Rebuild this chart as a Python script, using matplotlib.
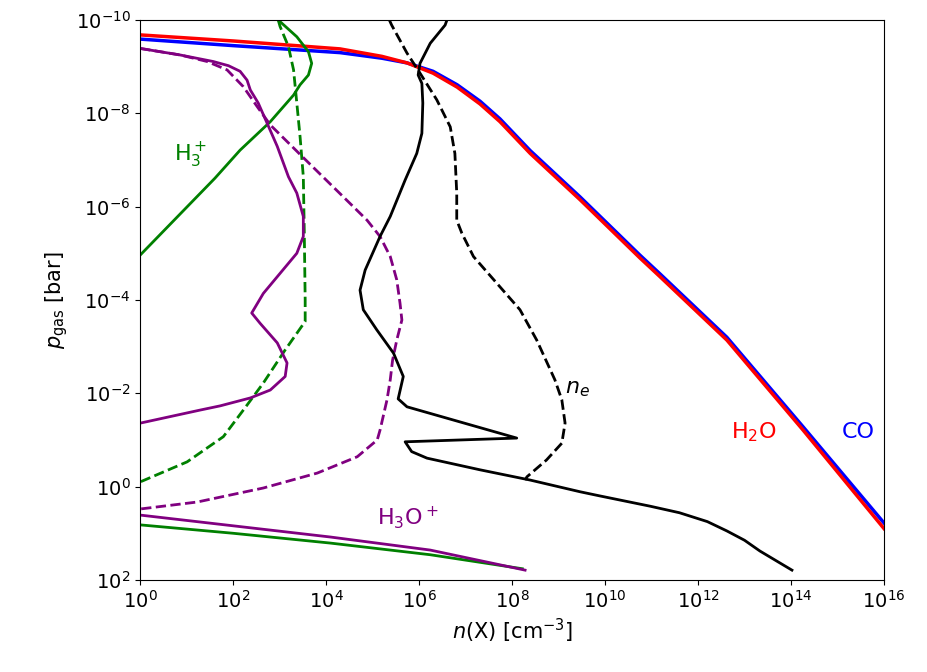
import numpy as np
import matplotlib.pyplot as plt
from matplotlib.ticker import NullLocator

# all values as log10: x = n(X) [cm^-3], y = p_gas [bar]
h2o_x = [0.0, 2.0, 4.3, 5.2, 5.74, 6.3, 6.82, 7.31, 7.74, 8.39, 9.46, 10.75, 11.18, 12.62, 14.26, 16.0]
h2o_y = [-9.68, -9.55, -9.38, -9.22, -9.08, -8.86, -8.56, -8.2, -7.82, -7.14, -6.15, -4.9, -4.5,
         -3.14, -1.21, 0.9]
co_x = [0.0, 2.0, 4.3, 5.2, 5.74, 6.3, 6.82, 7.31, 7.74, 8.39, 9.46, 10.75, 11.18, 12.62, 14.26, 16.0]
co_y = [-9.59, -9.45, -9.3, -9.18, -9.08, -8.9, -8.61, -8.26, -7.88, -7.2, -6.21, -4.96, -4.56,
        -3.2, -1.28, 0.78]

h3p_top_x = [2.97, 3.37, 3.62, 3.69, 3.62, 3.44, 3.3, 2.8, 2.15, 1.61, 0.8, 0.0]
h3p_top_y = [-10.0, -9.64, -9.32, -9.07, -8.82, -8.61, -8.39, -7.82, -7.21, -6.61, -5.78, -4.96]
h3p_bot_x = [0.0, 2.0, 4.09, 6.24, 8.22]
h3p_bot_y = [0.82, 1.0, 1.21, 1.46, 1.76]
h3p_dash_x = [2.97, 3.01, 3.19, 3.3, 3.37, 3.44, 3.51, 3.53, 3.55, 3.55, 3.12, 2.65, 2.22, 1.79,
              1.01, 0.0]
h3p_dash_y = [-10.0, -9.86, -9.43, -8.93, -8.22, -7.5, -6.64, -5.5, -4.0, -3.54, -2.93, -2.22, -1.64,
              -1.07, -0.53, -0.1]

h3op_top_x = [0.0, 0.86, 1.57, 1.9, 2.15, 2.3, 2.37, 2.54, 2.73, 2.95, 3.19, 3.37, 3.51, 3.51, 3.37,
              3.01, 2.65, 2.4, 2.58, 2.95, 3.16, 3.12, 2.8, 2.37, 1.72, 1.29, 0.0]
h3op_top_y = [-9.39, -9.25, -9.11, -9.02, -8.9, -8.71, -8.5, -8.22, -7.79, -7.29, -6.64, -6.29, -5.79,
              -5.36, -5.0, -4.57, -4.14, -3.72, -3.5, -3.08, -2.65, -2.36, -2.07, -1.9, -1.73,
              -1.64, -1.36]
h3op_bot_x = [0.0, 2.0, 4.09, 6.24, 8.28]
h3op_bot_y = [0.61, 0.84, 1.08, 1.36, 1.79]
h3op_dash_x = [0.0, 0.86, 1.44, 1.87, 2.22, 2.52, 2.8, 3.5, 4.37, 4.88, 5.16, 5.38, 5.52, 5.59,
               5.63, 5.52, 5.43, 5.38, 5.31, 5.16, 5.1, 4.67, 3.81, 2.65, 1.23, 0.0]
h3op_dash_y = [-9.39, -9.25, -9.11, -8.93, -8.57, -8.14, -7.75, -7.06, -6.21, -5.71, -5.36, -4.93,
               -4.43, -3.93, -3.57, -3.14, -2.71, -2.29, -1.86, -1.21, -1.0, -0.64, -0.29, 0.03,
               0.33, 0.48]

ion_x = [6.6, 6.56, 6.24, 6.02, 5.98, 6.06, 6.08, 6.06, 5.95, 5.7, 5.38, 5.16, 4.84, 4.73, 4.8,
         5.09, 5.45, 5.66, 5.55, 5.74, 8.1, 5.7, 5.84, 6.17, 7.31, 8.39, 9.46, 9.89, 10.97, 11.6,
         12.2, 12.62, 13.0, 13.33, 13.7, 14.02]
ion_y = [-10.0, -9.89, -9.5, -9.07, -8.82, -8.64, -8.22, -7.57, -7.14, -6.57, -5.79, -5.36, -4.64,
         -4.21, -3.79, -3.36, -2.86, -2.36, -1.88, -1.71, -1.04, -0.96, -0.75, -0.61, -0.36, -0.14,
         0.11, 0.2, 0.42, 0.56, 0.75, 0.95, 1.15, 1.38, 1.6, 1.79]
ne_x = [5.36, 5.41, 5.74, 6.02, 6.38, 6.67, 6.77, 6.81, 6.81, 6.92, 7.17, 7.67, 8.17, 8.53, 8.92,
        9.07, 9.14, 9.07, 8.74, 8.32, 8.28]
ne_y = [-10.0, -9.89, -9.29, -8.86, -8.29, -7.71, -7.14, -6.29, -5.71, -5.43, -4.93, -4.36, -3.79,
        -3.14, -2.29, -1.86, -1.36, -0.93, -0.57, -0.21, -0.14]


def p10(a):
    return np.power(10.0, a)


fig = plt.figure(figsize=(9.28, 6.72), dpi=100)
ax = fig.add_axes([0.151, 0.137, 0.8016, 0.8333])

ax.plot(p10(co_x), p10(co_y), color='blue', lw=2.5)
ax.plot(p10(h2o_x), p10(h2o_y), color='red', lw=2.5)

ax.plot(p10(h3p_top_x), p10(h3p_top_y), color='green', lw=2)
ax.plot(p10(h3p_bot_x), p10(h3p_bot_y), color='green', lw=2)
ax.plot(p10(h3p_dash_x), p10(h3p_dash_y), color='green', lw=2, ls='--')

ax.plot(p10(h3op_top_x), p10(h3op_top_y), color='purple', lw=2)
ax.plot(p10(h3op_bot_x), p10(h3op_bot_y), color='purple', lw=2)
ax.plot(p10(h3op_dash_x), p10(h3op_dash_y), color='purple', lw=2, ls='--')

ax.plot(p10(ion_x), p10(ion_y), color='black', lw=2)
ax.plot(p10(ne_x), p10(ne_y), color='black', lw=2, ls='--')

ax.set_xscale('log')
ax.set_yscale('log')
ax.set_xlim(1e0, 1e16)
ax.set_ylim(1e2, 1e-10)
ax.set_xticks(p10(np.arange(0, 17, 2)))
ax.set_yticks(p10(np.arange(-10, 3, 2)))
ax.xaxis.set_minor_locator(NullLocator())
ax.yaxis.set_minor_locator(NullLocator())
ax.tick_params(labelsize=14)

ax.set_xlabel(r'$n$(X) [cm$^{-3}$]', fontsize=15)
ax.set_ylabel(r'$p_{\rm gas}$ [bar]', fontsize=15)

ax.text(p10(1.08), p10(-7.1), r'H$_3^+$', color='green', fontsize=16, ha='center', va='center')
ax.text(p10(5.76), p10(0.67), r'H$_3$O$^+$', color='purple', fontsize=16, ha='center', va='center')
ax.text(p10(9.4), p10(-2.1), r'$n_e$', color='black', fontsize=16, ha='center', va='center')
ax.text(p10(13.2), p10(-1.17), r'H$_2$O', color='red', fontsize=16, ha='center', va='center')
ax.text(p10(15.44), p10(-1.17), 'CO', color='blue', fontsize=16, ha='center', va='center')

fig.savefig('out.png', dpi=100)
